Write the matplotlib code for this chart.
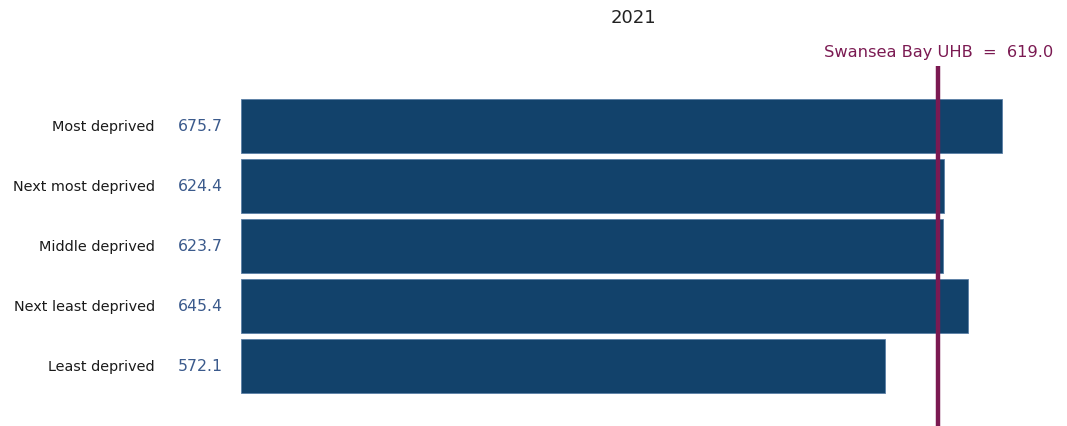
import matplotlib
matplotlib.use("Agg")
import matplotlib.pyplot as plt
from matplotlib.transforms import offset_copy

categories = ["Most deprived", "Next most deprived", "Middle deprived",
              "Next least deprived", "Least deprived"]
values = [675.7, 624.4, 623.7, 645.4, 572.1]
ref_label = "Swansea Bay UHB"
ref_value = 619.0
title = "2021"

W, H = 1067, 427
fig = plt.figure(figsize=(W / 100, H / 100), dpi=100)
ax = fig.add_axes([241 / W, 0, 821 / W, 360 / H])
ax.set_xlim(0, 729)
ax.set_ylim(5.0, -1.0)

bar_color = "#12426b"
line_color = "#7b1a52"
val_color = "#3b5a8c"

ypos = list(range(len(categories)))
ax.barh(ypos, values, height=0.9, color=bar_color, edgecolor="#5a7fa6", linewidth=0.6)
ax.axvline(ref_value, color=line_color, linewidth=3.2, zorder=5)

for spine in ax.spines.values():
    spine.set_visible(False)
ax.set_xticks([])
ax.set_yticks([])

cat_tr = offset_copy(ax.get_yaxis_transform(), fig=fig, x=-86, y=0, units="dots")
val_tr = offset_copy(ax.get_yaxis_transform(), fig=fig, x=-18, y=0, units="dots")
for y, c, v in zip(ypos, categories, values):
    ax.text(0, y, c, transform=cat_tr, ha="right", va="center", fontsize=10.4, color="#1a1a1a")
    ax.text(0, y, f"{v:.1f}", transform=val_tr, ha="right", va="center", fontsize=11.3, color=val_color)

fig.text(633 / W, 1 - 18 / H, title, ha="center", va="center", fontsize=13, color="#222222")
fig.text(1053 / W, 1 - 53 / H, f"{ref_label}  =  {ref_value:.1f}", ha="right", va="center",
         fontsize=11.7, color=line_color)

fig.savefig("out.png", dpi=100)
